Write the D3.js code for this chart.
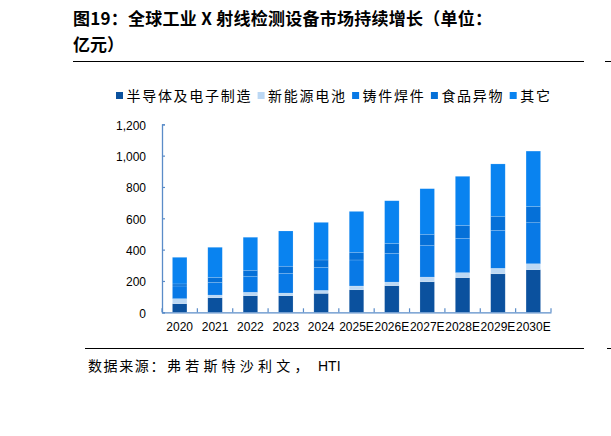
<!DOCTYPE html>
<html><head><meta charset="utf-8">
<script src="https://cdn.jsdelivr.net/npm/d3@7"></script>
<style>
html,body{margin:0;padding:0;background:#fff;}
svg{display:block;}
</style></head>
<body>
<svg id="chart" width="611" height="436"></svg>
<script>
const years = ["2020","2021","2022","2023","2024","2025E","2026E","2027E","2028E","2029E","2030E"];
const seriesNames = ["半导体及电子制造","新能源电池","铸件焊件","食品异物","其它"];
const semis    = [55, 93, 106, 106, 121, 144, 170, 195, 221, 246, 272];
const battery  = [32, 17, 22, 17, 19, 24, 23, 30, 32, 35, 38];
const castings = [81, 81, 102, 126, 147, 166, 183, 203, 219, 242, 262];
const food     = [13, 32, 38, 45, 47, 49, 64, 70, 83, 90, 104];
const other    = [170, 192, 211, 225, 240, 261, 272, 291, 313, 334, 353];
const yTicks = [0, 200, 400, 600, 800, 1000, 1200];
const colors = ["#0B519E", "#BCD8F4", "#0879E6", "#0570D8", "#0983F0"];

const seriesValues = [semis, battery, castings, food, other];
const table = years.map((y, i) => {
  const row = {year: y};
  seriesNames.forEach((s, k) => row[s] = seriesValues[k][i]);
  return row;
});
const stacked = d3.stack().keys(seriesNames)(table);

const svg = d3.select("#chart");
const cjk = "'Noto Sans CJK SC','Noto Sans',sans-serif";
const latin = "'Liberation Sans',Arial,sans-serif";

// Title
svg.append("text").attr("x", 73).attr("y", 25)
  .attr("font-family", cjk).attr("font-weight", "bold").attr("font-size", 17)
  .attr("textLength", 419).attr("lengthAdjust", "spacing")
  .attr("fill", "#000").text("图19：全球工业 X 射线检测设备市场持续增长（单位：");
svg.append("text").attr("x", 73).attr("y", 51)
  .attr("font-family", cjk).attr("font-weight", "bold").attr("font-size", 17)
  .attr("fill", "#000").text("亿元）");
svg.append("line").attr("x1", 73).attr("x2", 584).attr("y1", 61.5).attr("y2", 61.5)
  .attr("stroke", "#000").attr("stroke-width", 1);

// rules of the neighbouring column at the right edge
svg.append("line").attr("x1", 605).attr("x2", 611).attr("y1", 61.5).attr("y2", 61.5).attr("stroke", "#000");
svg.append("line").attr("x1", 607).attr("x2", 611).attr("y1", 348.5).attr("y2", 348.5).attr("stroke", "#000");

// Scales
const x = d3.scaleBand().domain(years).range([162, 551]).paddingInner(0.59).paddingOuter(0.295);
const y = d3.scaleLinear().domain([0, 1200]).range([312.3, 124.3]);
const axisColor = "#5A8CC8";

// Bars
const g = svg.append("g");
g.selectAll("g.series").data(stacked).join("g")
  .attr("fill", (d, i) => colors[i])
  .selectAll("rect").data(d => d).join("rect")
  .attr("x", d => x(d.data.year))
  .attr("width", x.bandwidth())
  .attr("y", d => y(d[1]))
  .attr("height", d => y(d[0]) - y(d[1]))
  .attr("stroke", "#ffffff").attr("stroke-opacity", 0.25).attr("stroke-width", 0.6);

// Y axis
const yAxis = d3.axisLeft(y).tickValues(yTicks).tickSize(-3).tickPadding(16)
  .tickFormat(d3.format(","));
const ya = svg.append("g").attr("transform", "translate(162,0)").call(yAxis);
ya.select(".domain").attr("stroke", axisColor).attr("stroke-width", 1.3);
ya.selectAll(".tick line").attr("stroke", axisColor).attr("stroke-width", 1.2);
ya.selectAll(".tick text").attr("font-family", latin).attr("font-size", 12).attr("fill", "#000")
  .attr("dy", "0.4em");

// X axis
const xAxis = d3.axisBottom(x).tickSize(0).tickPadding(10);
const xa = svg.append("g").attr("transform", "translate(0,312.3)").call(xAxis);
xa.select(".domain").attr("stroke", axisColor).attr("stroke-width", 1.3);
xa.selectAll(".tick text").attr("font-family", latin).attr("font-size", 12).attr("fill", "#000");
const edges = d3.range(years.length + 1).map(i => 162 + i * x.step());
xa.selectAll("line.bt").data(edges).join("line").attr("class", "bt")
  .attr("x1", d => d).attr("x2", d => d).attr("y1", 0).attr("y2", -4)
  .attr("stroke", axisColor).attr("stroke-width", 1.2);

// Legend
const leg = svg.append("g").attr("transform", "translate(116,96)");
let lx = 0;
seriesNames.forEach((name, i) => {
  leg.append("rect").attr("x", lx).attr("y", -4).attr("width", 7).attr("height", 7).attr("fill", colors[i]);
  lx += 10.5;
  leg.append("text").attr("x", lx).attr("y", 4.5)
    .attr("font-family", cjk).attr("font-size", 14).attr("letter-spacing", "1.7px")
    .attr("fill", "#000").text(name);
  lx += name.length * 15.7 + 5.5;
});

// Bottom rule and source
svg.append("line").attr("x1", 85).attr("x2", 584).attr("y1", 348.5).attr("y2", 348.5)
  .attr("stroke", "#000").attr("stroke-width", 1);
const src = svg.append("text").attr("x", 88).attr("y", 371)
  .attr("font-family", cjk).attr("font-size", 14).attr("fill", "#000");
src.append("tspan").attr("letter-spacing", "1.6px").text("数据来源：");
src.append("tspan").attr("x", 167).attr("letter-spacing", "4.2px").text("弗若斯特沙利文，");
src.append("tspan").attr("x", 318).attr("font-family", latin).attr("font-size", 14).text("HTI");
</script>
</body></html>
